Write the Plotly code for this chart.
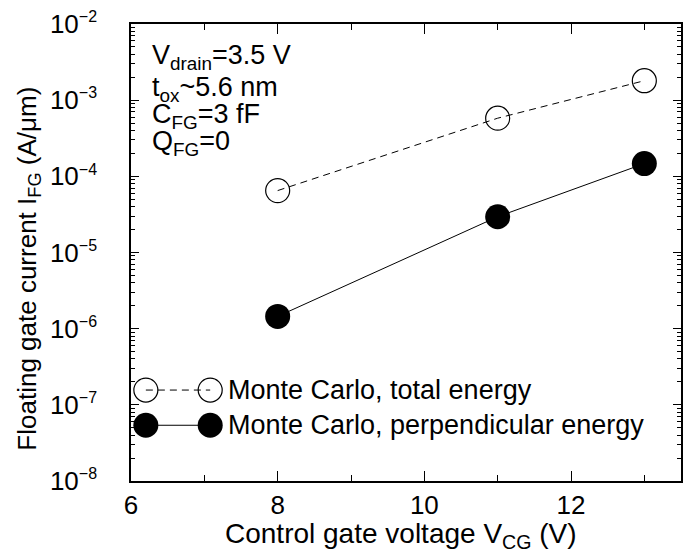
import plotly.graph_objects as go

# ---- data ----
vcg = [8, 11, 13]
i_total = [6.5e-5, 5.8e-4, 1.8e-3]
i_perp = [1.45e-6, 2.95e-5, 1.47e-4]
series_names = ["Monte Carlo, total energy", "Monte Carlo, perpendicular energy"]
x_ticks = [6, 8, 10, 12]
y_tick_vals = [1e-8, 1e-7, 1e-6, 1e-5, 1e-4, 1e-3, 1e-2]
y_tick_exps = ["−8", "−7", "−6", "−5", "−4", "−3", "−2"]
info_lines = ["V<sub>drain</sub>=3.5 V", "t<sub>ox</sub>~5.6 nm", "C<sub>FG</sub>=3 fF", "Q<sub>FG</sub>=0"]
x_title = "Control gate voltage V<sub>CG</sub> (V)"
y_title = "Floating gate current I<sub>FG</sub> (A/μm)"

FONT = "Liberation Sans, Arial, Helvetica, sans-serif"
TXT = 27

y_tick_text = ["10<sup><span style='font-size:16px'>%s</span></sup>" % e for e in y_tick_exps]

fig = go.Figure()
fig.add_trace(go.Scatter(
    x=vcg, y=i_total, mode="lines+markers", name=series_names[0],
    line=dict(color="black", width=1, dash="7px,5px"),
    marker=dict(symbol="circle-open", size=24, color="black", line=dict(width=1.2)),
    showlegend=False, cliponaxis=False))
fig.add_trace(go.Scatter(
    x=vcg, y=i_perp, mode="lines+markers", name=series_names[1],
    line=dict(color="black", width=1),
    marker=dict(symbol="circle", size=25, color="black"),
    showlegend=False, cliponaxis=False))

# ---- legend keys drawn on an overlay axis in fractional units ----
leg_x = [0.027, 0.144]
leg_y = [0.199, 0.122]
fig.add_trace(go.Scatter(
    x=leg_x, y=[leg_y[0]] * 2, xaxis="x2", yaxis="y2", mode="lines+markers",
    line=dict(color="black", width=1, dash="7px,5px"),
    marker=dict(symbol="circle-open", size=24, color="black", line=dict(width=1.2)),
    showlegend=False, cliponaxis=False, hoverinfo="skip"))
fig.add_trace(go.Scatter(
    x=leg_x, y=[leg_y[1]] * 2, xaxis="x2", yaxis="y2", mode="lines+markers",
    line=dict(color="black", width=1),
    marker=dict(symbol="circle", size=25, color="black"),
    showlegend=False, cliponaxis=False, hoverinfo="skip"))

annotations = []
for name, yy in zip(series_names, leg_y):
    annotations.append(dict(x=0.173, y=yy, xref="paper", yref="paper", text=name,
                            showarrow=False, xanchor="left", yanchor="middle",
                            font=dict(family=FONT, size=TXT, color="black")))
info_y = [0.927, 0.857, 0.798, 0.739]
for t, yy in zip(info_lines, info_y):
    annotations.append(dict(x=0.035, y=yy, xref="paper", yref="paper", text=t,
                            showarrow=False, xanchor="left", yanchor="middle",
                            font=dict(family=FONT, size=TXT, color="black")))
annotations.append(dict(x=0.49, y=-0.12, xref="paper", yref="paper", text=x_title,
                        showarrow=False, xanchor="center", yanchor="middle",
                        font=dict(family=FONT, size=28, color="black")))
annotations.append(dict(x=-0.187, y=0.465, xref="paper", yref="paper", text=y_title,
                        showarrow=False, xanchor="center", yanchor="middle", textangle=-90,
                        font=dict(family=FONT, size=26, color="black")))

axis_common = dict(showline=True, linecolor="black", linewidth=1.5, mirror="ticks",
                   ticks="inside", tickcolor="black", showgrid=False, zeroline=False,
                   automargin=False, ticklabeloverflow="allow")

fig.update_layout(
    width=691, height=560,
    margin=dict(l=131, r=10, t=24, b=79),
    paper_bgcolor="white", plot_bgcolor="white",
    font=dict(family=FONT, color="black"),
    annotations=annotations,
    xaxis=dict(range=[6, 13.5], tickvals=x_ticks, ticklen=10, tickwidth=1,
               ticklabelstandoff=0,
               tickfont=dict(family=FONT, size=26, color="black"),
               minor=dict(dtick=1, tick0=0, ticks="inside", ticklen=6, tickcolor="black", tickwidth=1),
               **axis_common),
    yaxis=dict(type="log", range=[-8, -2], tickvals=y_tick_vals, ticktext=y_tick_text,
               ticklen=8, tickwidth=1, ticklabelstandoff=27,
               tickfont=dict(family=FONT, size=26, color="black"),
               minor=dict(dtick="D1", ticks="inside", ticklen=4, tickcolor="black", tickwidth=1),
               **axis_common),
    xaxis2=dict(overlaying="x", range=[0, 1], visible=False),
    yaxis2=dict(overlaying="y", range=[0, 1], visible=False),
)

# remove the default page margin so the figure fills the window exactly
fig.write_html("out.html", config={"displayModeBar": False},
               post_script="document.body.style.margin='0';")
